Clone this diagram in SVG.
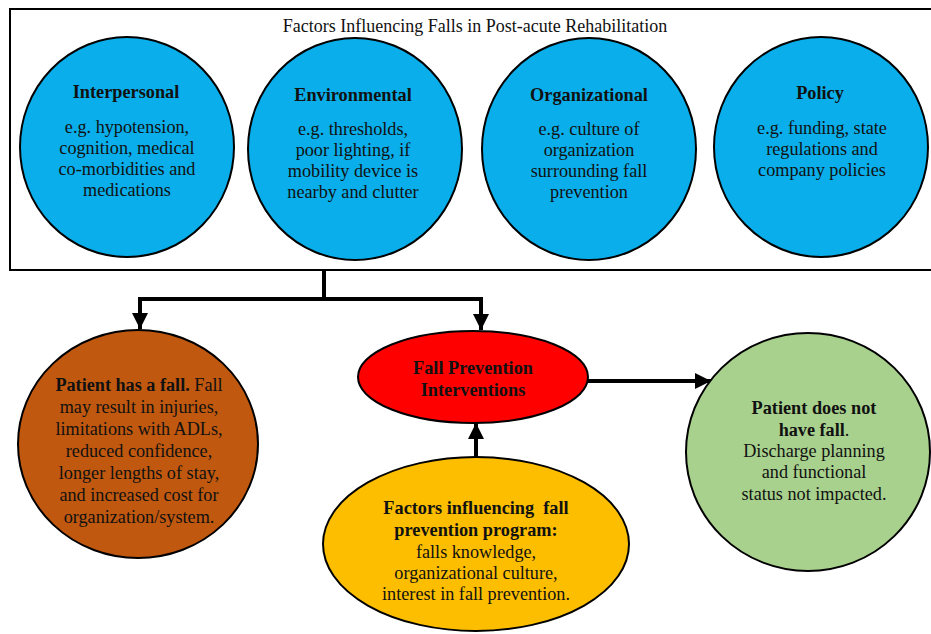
<svg xmlns="http://www.w3.org/2000/svg" width="931" height="634" viewBox="0 0 931 634">
<defs>
<style>
text{font-family:"Liberation Serif","DejaVu Serif",serif;fill:#111;text-anchor:middle}
.t{font-size:18px}
.h{font-size:18.3px;font-weight:bold}
.b{font-size:18.2px}
.node{stroke:#000;stroke-width:2}
.blue{fill:#0AAEEA}
.con{stroke:#000;stroke-width:4;fill:none}
</style>
<marker id="ah" viewBox="0 0 10 10" refX="10" refY="5" markerWidth="4" markerHeight="4" markerUnits="strokeWidth" orient="auto">
<path d="M0,0 L10,5 L0,10 Z" fill="#000"/>
</marker>
</defs>
<rect width="931" height="634" fill="#fff"/>
<g id="frame">
<rect x="10" y="9" width="930" height="261" fill="#fff" stroke="#000" stroke-width="2"/>
<text class="t" x="475" y="32">Factors Influencing Falls in Post-acute Rehabilitation</text>
</g>
<g id="interpersonal">
<ellipse class="node blue" cx="127" cy="147" rx="107" ry="110"/>
<text class="h" x="126" y="98">Interpersonal</text>
<text class="b" x="127" y="133">e.g. hypotension,</text>
<text class="b" x="127" y="154">cognition, medical</text>
<text class="b" x="127" y="175">co-morbidities and</text>
<text class="b" x="127" y="196">medications</text>
</g>
<g id="environmental">
<ellipse class="node blue" cx="355" cy="149" rx="107" ry="111"/>
<text class="h" x="353" y="101">Environmental</text>
<text class="b" x="353" y="135">e.g. thresholds,</text>
<text class="b" x="353" y="156">poor lighting, if</text>
<text class="b" x="353" y="177">mobility device is</text>
<text class="b" x="353" y="198">nearby and clutter</text>
</g>
<g id="organizational">
<ellipse class="node blue" cx="589" cy="149" rx="107" ry="111"/>
<text class="h" x="589" y="101">Organizational</text>
<text class="b" x="589" y="135">e.g. culture of</text>
<text class="b" x="589" y="156">organization</text>
<text class="b" x="589" y="177">surrounding fall</text>
<text class="b" x="589" y="198">prevention</text>
</g>
<g id="policy">
<ellipse class="node blue" cx="821" cy="147" rx="107" ry="110"/>
<text class="h" x="820" y="99">Policy</text>
<text class="b" x="822" y="134">e.g. funding, state</text>
<text class="b" x="822" y="155">regulations and</text>
<text class="b" x="822" y="176">company policies</text>
</g>
<g id="connectors">
<polyline class="con" points="324,270 324,299"/>
<polyline class="con" points="138,299 483,299"/>
<line class="con" x1="140" y1="299" x2="140" y2="329" marker-end="url(#ah)"/>
<line class="con" x1="481" y1="299" x2="481" y2="330" marker-end="url(#ah)"/>
<line class="con" x1="588" y1="381" x2="711" y2="381" marker-end="url(#ah)"/>
<line class="con" x1="476" y1="458" x2="476" y2="423" marker-end="url(#ah)"/>
</g>
<g id="fall">
<ellipse class="node" cx="138" cy="444" rx="120" ry="114" fill="#C0580F"/>
<text class="b" x="139" y="391"><tspan font-weight="bold">Patient has a fall.</tspan> Fall</text>
<text class="b" x="139" y="413">may result in injuries,</text>
<text class="b" x="139" y="435">limitations with ADLs,</text>
<text class="b" x="139" y="457">reduced confidence,</text>
<text class="b" x="139" y="479">longer lengths of stay,</text>
<text class="b" x="139" y="501">and increased cost for</text>
<text class="b" x="139" y="523">organization/system.</text>
</g>
<g id="interventions">
<ellipse class="node" cx="473" cy="377" rx="115" ry="46" fill="#FF0000"/>
<text class="h" x="473" y="374">Fall Prevention</text>
<text class="h" x="473" y="396">Interventions</text>
</g>
<g id="nofall">
<ellipse class="node" cx="808" cy="452" rx="122" ry="119" fill="#A9D18E"/>
<text class="h" x="814" y="414">Patient does not</text>
<text class="b" x="814" y="436"><tspan font-weight="bold">have fall</tspan>.</text>
<text class="b" x="814" y="457">Discharge planning</text>
<text class="b" x="814" y="478">and functional</text>
<text class="b" x="814" y="500">status not impacted.</text>
</g>
<g id="program">
<ellipse class="node" cx="476" cy="544" rx="153" ry="87" fill="#FDBE00"/>
<text class="h" x="476" y="514" xml:space="preserve">Factors influencing  fall</text>
<text class="h" x="476" y="536">prevention program:</text>
<text class="b" x="476" y="558">falls knowledge,</text>
<text class="b" x="476" y="579">organizational culture,</text>
<text class="b" x="476" y="600">interest in fall prevention.</text>
</g>
</svg>
